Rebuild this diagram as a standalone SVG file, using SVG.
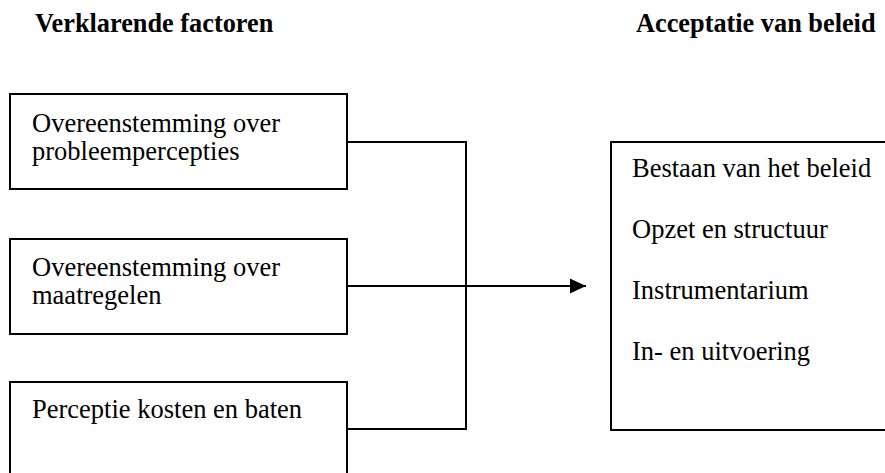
<svg xmlns="http://www.w3.org/2000/svg" width="885" height="473" viewBox="0 0 885 473">
  <defs>
    <style>
      .box { fill: #ffffff; stroke: #000000; stroke-width: 2; }
      .conn { fill: none; stroke: #000000; stroke-width: 2; }
      .t { font-family: "Liberation Serif", "Times New Roman", serif; font-size: 26.5px; fill: #000000; }
      .h { font-family: "Liberation Serif", "Times New Roman", serif; font-size: 26.3px; font-weight: bold; fill: #000000; }
    </style>
    <marker id="arrow" markerWidth="16" markerHeight="16" refX="16" refY="8" orient="auto" markerUnits="userSpaceOnUse">
      <path d="M0,0.5 L16,8 L0,15.5 Z" fill="#000000"/>
    </marker>
  </defs>
  <rect width="885" height="473" fill="#ffffff"/>

  <g id="headings">
    <text class="h" x="35" y="32">Verklarende factoren</text>
    <text class="h" x="636" y="32">Acceptatie van beleid</text>
  </g>

  <g id="connectors">
    <path class="conn" d="M347,142 H466 V429 H347"/>
    <path class="conn" d="M347,286 H586" marker-end="url(#arrow)"/>
  </g>

  <g id="node-probleempercepties">
    <rect class="box" x="10" y="94" width="337" height="95"/>
    <text class="t" x="32" y="132">Overeenstemming over</text>
    <text class="t" x="32" y="160">probleempercepties</text>
  </g>

  <g id="node-maatregelen">
    <rect class="box" x="10" y="239" width="337" height="95"/>
    <text class="t" x="32" y="276">Overeenstemming over</text>
    <text class="t" x="32" y="304">maatregelen</text>
  </g>

  <g id="node-kosten-baten">
    <rect class="box" x="10" y="382" width="337" height="96"/>
    <text class="t" x="32" y="418">Perceptie kosten en baten</text>
  </g>

  <g id="node-acceptatie">
    <rect class="box" x="611" y="142" width="280" height="288"/>
    <text class="t" x="632" y="177">Bestaan van het beleid</text>
    <text class="t" x="632" y="238">Opzet en structuur</text>
    <text class="t" x="632" y="299">Instrumentarium</text>
    <text class="t" x="632" y="360">In- en uitvoering</text>
  </g>
</svg>
